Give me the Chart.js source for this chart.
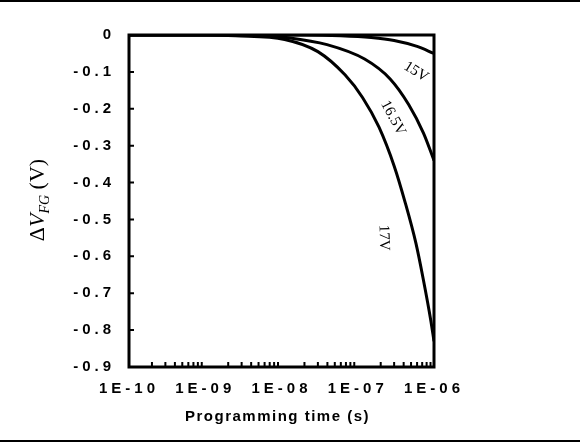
<!DOCTYPE html>
<html>
<head>
<meta charset="utf-8">
<script src="https://cdn.jsdelivr.net/npm/chart.js@4.4.0/dist/chart.umd.min.js"></script>
<style>
  html, body { margin: 0; padding: 0; background: #fff; }
  #wrap { position: relative; width: 580px; height: 446px; }
</style>
</head>
<body>
<div id="wrap"><canvas id="chart" width="580" height="446"></canvas></div>
<script>
// tick values / labels
const decades = [1e-10, 1e-9, 1e-8, 1e-7, 1e-6];
const decadeLabels = ['1E-10', '1E-09', '1E-08', '1E-07', '1E-06'];
const yTickLabels = ['0', '-0.1', '-0.2', '-0.3', '-0.4', '-0.5', '-0.6', '-0.7', '-0.8', '-0.9'];

// curves (time in s, delta V in V)
const time15 = [1e-10, 2e-8, 6e-8, 1.5e-7, 3e-7, 6e-7, 1e-6];
const dv15   = [0, 0, -0.002, -0.007, -0.015, -0.031, -0.05];

const time165 = [1e-10, 5e-9, 1.1e-8, 3.95e-8, 1.23e-7, 2.66e-7, 4.67e-7, 7.28e-7, 1e-6];
const dv165   = [0, 0, -0.006, -0.026, -0.065, -0.119, -0.189, -0.266, -0.34];

const time17 = [1e-10, 1e-9, 2.5e-9, 1.1e-8, 3e-8, 6.8e-8, 1.16e-7, 1.9e-7, 3e-7, 4.2e-7, 5.8e-7, 7.2e-7, 9.1e-7, 1e-6];
const dv17   = [0, 0, -0.002, -0.012, -0.045, -0.108, -0.17, -0.25, -0.355, -0.455, -0.565, -0.66, -0.775, -0.83];

const seriesNames = ['15V', '16.5V', '17V'];

// where the curve names sit (data coords) and their tilt
const labelSpots = [
  { t: 5.8e-7, v: -0.1, angle: 32 },
  { t: 2.9e-7, v: -0.225, angle: 62 },
  { t: 2.2e-7, v: -0.55, angle: 88 }
];

function toPoints(ts, vs) {
  return ts.map((t, i) => ({ x: t, y: vs[i] }));
}

const tickFont = { family: 'Liberation Sans', weight: 'bold', size: 15 };

// frame, inward ticks, titles and curve names
const decorations = {
  id: 'decorations',
  beforeDraw(chart) {
    chart.ctx.letterSpacing = '4px';
  },
  afterDraw(chart) {
    const ctx = chart.ctx;
    const a = chart.chartArea;
    const xs = chart.scales.x;
    const ys = chart.scales.y;
    ctx.save();
    ctx.letterSpacing = '0px';
    ctx.strokeStyle = '#000';

    // plot box
    ctx.lineWidth = 3;
    ctx.strokeRect(a.left, a.top, a.right - a.left, a.bottom - a.top);

    // y ticks pointing in
    ctx.lineWidth = 2;
    ctx.beginPath();
    ys.ticks.forEach(tk => {
      const py = ys.getPixelForValue(tk.value);
      ctx.moveTo(a.left, py);
      ctx.lineTo(a.left + 5, py);
    });
    // x minor ticks pointing in
    for (let d = 0; d < decades.length - 1; d++) {
      for (let m = 2; m <= 9; m++) {
        const px = xs.getPixelForValue(decades[d] * m);
        ctx.moveTo(px, a.bottom);
        ctx.lineTo(px, a.bottom - 5);
      }
    }
    ctx.stroke();

    // x title
    ctx.fillStyle = '#000';
    ctx.letterSpacing = '1.5px';
    ctx.font = 'bold 15px "Liberation Sans"';
    ctx.textAlign = 'center';
    ctx.textBaseline = 'middle';
    ctx.fillText('Programming time (s)', (a.left + a.right) / 2 - 4, 417);

    // y title: ΔV_FG (V)
    ctx.letterSpacing = '0px';
    ctx.save();
    ctx.translate(44, 200);
    ctx.rotate(-Math.PI / 2);
    ctx.textAlign = 'left';
    ctx.textBaseline = 'alphabetic';
    const parts = [
      { s: '\u0394', f: '22px "Liberation Serif"', dy: 0 },
      { s: 'V', f: 'italic 22px "Liberation Serif"', dy: 0 },
      { s: 'FG', f: 'italic 14px "Liberation Serif"', dy: 5 },
      { s: ' (V)', f: '22px "Liberation Serif"', dy: 0 }
    ];
    let total = 0;
    parts.forEach(p => { ctx.font = p.f; p.w = ctx.measureText(p.s).width; total += p.w; });
    let cx = -total / 2;
    parts.forEach(p => {
      ctx.font = p.f;
      ctx.fillText(p.s, cx, p.dy);
      cx += p.w;
    });
    ctx.restore();

    // curve names
    ctx.font = '15px "Liberation Serif"';
    ctx.textAlign = 'center';
    ctx.textBaseline = 'middle';
    labelSpots.forEach((sp, i) => {
      ctx.save();
      ctx.translate(xs.getPixelForValue(sp.t), ys.getPixelForValue(sp.v));
      ctx.rotate(sp.angle * Math.PI / 180);
      ctx.fillText(seriesNames[i], 0, 0);
      ctx.restore();
    });

    // page rules top and bottom
    ctx.lineWidth = 2;
    ctx.beginPath();
    ctx.moveTo(0, 1);
    ctx.lineTo(chart.width, 1);
    ctx.moveTo(0, 441);
    ctx.lineTo(chart.width, 441);
    ctx.stroke();
    ctx.restore();
  }
};

const lineStyle = {
  borderColor: '#000',
  borderWidth: 3,
  pointRadius: 0,
  fill: false,
  cubicInterpolationMode: 'monotone'
};

new Chart(document.getElementById('chart'), {
  type: 'line',
  data: {
    datasets: [
      { label: seriesNames[0], data: toPoints(time15, dv15), ...lineStyle },
      { label: seriesNames[1], data: toPoints(time165, dv165), ...lineStyle },
      { label: seriesNames[2], data: toPoints(time17, dv17), ...lineStyle }
    ]
  },
  options: {
    responsive: false,
    animation: false,
    devicePixelRatio: 1,
    layout: { padding: { top: 35, right: 146, left: 0, bottom: 0 } },
    plugins: { legend: { display: false }, tooltip: { enabled: false } },
    scales: {
      x: {
        type: 'logarithmic',
        min: 1e-10,
        max: 1e-6,
        grid: { display: false, drawTicks: false },
        border: { display: false },
        afterBuildTicks: s => { s.ticks = decades.map(v => ({ value: v })); },
        afterFit: s => { s.height = 79; },
        ticks: {
          autoSkip: false,
          maxRotation: 0,
          padding: 13,
          color: '#000',
          font: tickFont,
          callback: (v, i) => decadeLabels[i]
        }
      },
      y: {
        min: -0.9,
        max: 0,
        grid: { display: false, drawTicks: false },
        border: { display: false },
        afterFit: s => { s.width = 129; },
        ticks: {
          stepSize: 0.1,
          padding: 14,
          color: '#000',
          font: tickFont,
          callback: v => yTickLabels[Math.round(-v * 10)]
        }
      }
    }
  },
  plugins: [decorations]
});
</script>
</body>
</html>
